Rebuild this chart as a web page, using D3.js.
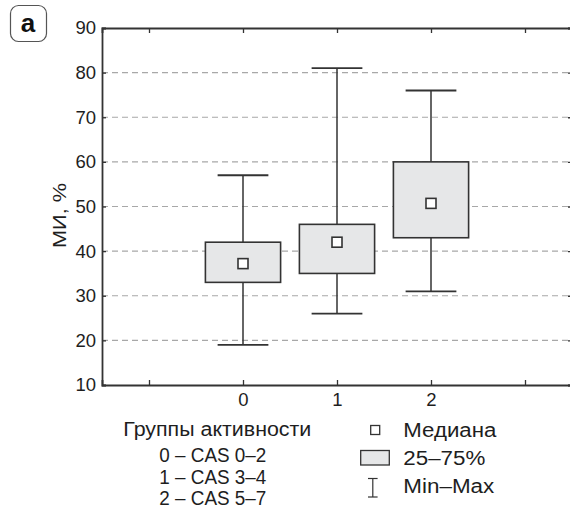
<!DOCTYPE html>
<html><head><meta charset="utf-8">
<script src="https://cdn.jsdelivr.net/npm/d3@7"></script>
<style>body{margin:0;background:#fff}svg{display:block;font-family:"Liberation Sans",Arial,sans-serif}</style>
</head><body><svg id="c" width="570" height="509"></svg>
<script>
const groups = [0, 1, 2];
const minVals = [19, 26, 31];
const q1Vals = [33, 35, 43];
const medianVals = [37.2, 42, 50.7];
const q3Vals = [42, 46, 60];
const maxVals = [57, 81, 76];
const yTicks = [10, 20, 30, 40, 50, 60, 70, 80, 90];
const xTicks = [-1, 0, 1, 2, 3];
const groupLegend = ["Группы активности", "0 – CAS 0–2", "1 – CAS 3–4", "2 – CAS 5–7"];
const markLegend = ["Медиана", "25–75%", "Min–Max"];

const svg = d3.select("#c");
const L = 102, R = 572, T = 28, B = 385;
const x = d3.scaleLinear().domain([-1.5, 3.5]).range([L, R]);
const y = d3.scaleLinear().domain([10, 90]).range([B, T]);
const dark = "#333", fs = 18.5, lfs = 19.5, txt = "#1e1e1e";

// gridlines
svg.append("g").selectAll("line").data(yTicks.filter(v => v > 10 && v < 90)).join("line")
  .attr("x1", L).attr("x2", R).attr("y1", d => y(d)).attr("y2", d => y(d))
  .attr("stroke", "#a8a8a8").attr("stroke-width", 1.2).attr("stroke-dasharray", "6,4");

// axes
const yAxis = d3.axisLeft(y).tickValues(yTicks).tickSize(-4).tickPadding(6).tickFormat(d3.format("d"));
const gy = svg.append("g").attr("transform", `translate(${L},0)`).call(yAxis);
const xAxis = d3.axisBottom(x).tickValues(xTicks).tickSize(-5).tickPadding(8)
  .tickFormat(d => groups.includes(d) ? String(d) : "");
const gx = svg.append("g").attr("transform", `translate(0,${B})`).call(xAxis);
const xTop = d3.axisTop(x).tickValues(xTicks).tickSize(-5).tickFormat("");
const gt = svg.append("g").attr("transform", `translate(0,${T})`).call(xTop);
const yRight = d3.axisRight(y).tickValues(yTicks).tickSize(-4).tickFormat("");
const gr = svg.append("g").attr("transform", `translate(${R},0)`).call(yRight);
[gy, gx, gt, gr].forEach(g => {
  g.selectAll(".domain").attr("stroke", dark).attr("stroke-width", 1.8);
  g.selectAll(".tick line").attr("stroke", dark).attr("stroke-width", 1.3);
  g.selectAll("text").attr("font-size", fs).attr("fill", txt).attr("font-family", "Liberation Sans, Arial, sans-serif");
});

// y label
svg.append("text").attr("transform", `translate(66,215.5) rotate(-90)`)
  .attr("text-anchor", "middle").attr("font-size", 17.7).attr("fill", txt)
  .attr("textLength", 65).attr("lengthAdjust", "spacingAndGlyphs").text("МИ, %");

// boxes
const bw = 0.8, cw = 0.54;
const g = svg.append("g");
groups.forEach((gv, i) => {
  const cx = x(gv);
  const half = (x(bw) - x(0)) / 2, ch = (x(cw) - x(0)) / 2;
  g.append("line").attr("x1", cx).attr("x2", cx).attr("y1", y(maxVals[i])).attr("y2", y(q3Vals[i])).attr("stroke", dark).attr("stroke-width", 1.5);
  g.append("line").attr("x1", cx).attr("x2", cx).attr("y1", y(q1Vals[i])).attr("y2", y(minVals[i])).attr("stroke", dark).attr("stroke-width", 1.5);
  [maxVals[i], minVals[i]].forEach(v => g.append("line").attr("x1", cx - ch).attr("x2", cx + ch).attr("y1", y(v)).attr("y2", y(v)).attr("stroke", dark).attr("stroke-width", 1.8));
  g.append("rect").attr("x", cx - half).attr("width", 2 * half).attr("y", y(q3Vals[i])).attr("height", y(q1Vals[i]) - y(q3Vals[i]))
    .attr("fill", "#e6e7e8").attr("stroke", dark).attr("stroke-width", 1.6);
  g.append("rect").attr("x", cx - 5).attr("y", y(medianVals[i]) - 5).attr("width", 10).attr("height", 10)
    .attr("fill", "#fff").attr("stroke", dark).attr("stroke-width", 1.6);
});

// panel label
svg.append("rect").attr("x", 10.5).attr("y", 5.5).attr("width", 36).attr("height", 36).attr("rx", 8)
  .attr("fill", "#fff").attr("stroke", "#555").attr("stroke-width", 1.2);
svg.append("text").attr("x", 28).attr("y", 32).attr("text-anchor", "middle").attr("font-size", 26).attr("font-weight", "bold").attr("fill", "#111").text("a");

// group legend
const glX = [123.3, 159.3, 159.3, 159.3], glY = [436, 461.5, 484, 504.5], glW = [188, 107, 107, 107];
svg.append("g").selectAll("text").data(groupLegend).join("text")
  .attr("x", (d, i) => glX[i]).attr("y", (d, i) => glY[i])
  .attr("font-size", lfs).attr("fill", txt)
  .attr("textLength", (d, i) => glW[i]).attr("lengthAdjust", "spacingAndGlyphs").text(d => d);

// mark legend
svg.append("rect").attr("x", 370.7).attr("y", 425.5).attr("width", 9).attr("height", 9).attr("fill", "#fff").attr("stroke", dark).attr("stroke-width", 1.3);
svg.append("rect").attr("x", 360.7).attr("y", 450.5).attr("width", 28.6).attr("height", 14.5).attr("fill", "#e6e7e8").attr("stroke", dark).attr("stroke-width", 1.3);
const wx = 372.8;
svg.append("line").attr("x1", wx).attr("x2", wx).attr("y1", 478.5).attr("y2", 497).attr("stroke", dark).attr("stroke-width", 1.2);
[478.5, 497].forEach(yy => svg.append("line").attr("x1", wx - 4.8).attr("x2", wx + 4.8).attr("y1", yy).attr("y2", yy).attr("stroke", dark).attr("stroke-width", 1.2));
const mlY = [436.7, 465, 493.3], mlW = [93, 82, 91];
svg.append("g").selectAll("text").data(markLegend).join("text")
  .attr("x", 403.3).attr("y", (d, i) => mlY[i]).attr("font-size", lfs).attr("fill", txt)
  .attr("textLength", (d, i) => mlW[i]).attr("lengthAdjust", "spacingAndGlyphs").text(d => d);
</script></body></html>
